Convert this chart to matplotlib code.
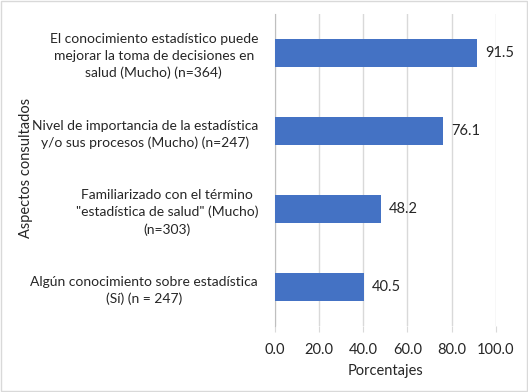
import matplotlib.pyplot as plt

plt.rcParams['font.family'] = ['Lato', 'DejaVu Sans']

categorias = [
    "El conocimiento estadístico puede\nmejorar la toma de decisiones en\nsalud (Mucho) (n=364)",
    "Nivel de importancia de la estadística\ny/o sus procesos (Mucho) (n=247)",
    "Familiarizado con el término\n\"estadística de salud\" (Mucho)\n(n=303)",
    "Algún conocimiento sobre estadística\n(Sí) (n = 247)",
]
porcentajes = [91.5, 76.1, 48.2, 40.5]
ticks_x = [0, 20, 40, 60, 80, 100]

texto = '#262626'
fig = plt.figure(figsize=(5.28, 3.92), dpi=100)
ax = fig.add_axes([274.7 / 528, (392 - 326) / 392, (496 - 274.7) / 528, 312 / 392])

pos = list(range(len(categorias)))[::-1]
ax.barh(pos, porcentajes, height=0.35, color='#4472C4', zorder=3)
for p, v in zip(pos, porcentajes):
    ax.text(v + 3.5, p, f"{v:.1f}", va='center', ha='left', fontsize=10.5, color=texto)

ax.set_xlim(0, 100)
ax.set_ylim(-0.5, len(categorias) - 0.5)
ax.set_xticks(ticks_x)
ax.set_xticklabels([f"{t:.1f}" for t in ticks_x], fontsize=10.5, color=texto)
ax.set_yticks(pos)
ax.set_yticklabels(categorias, fontsize=10, color=texto, multialignment='center',
                   linespacing=1.45)
ax.tick_params(axis='y', length=0, pad=12)
ax.tick_params(axis='x', length=4, color='#D9D9D9', pad=8)
ax.grid(axis='x', color='#D9D9D9', linewidth=1, zorder=0)
for s in ['top', 'right', 'bottom']:
    ax.spines[s].set_visible(False)
ax.spines['left'].set_color('#BFBFBF')

ax.set_xlabel("Porcentajes", fontsize=10.5, color=texto, labelpad=5)
fig.text(26 / 528, 0.5 + 28 / 392, "Aspectos consultados", rotation=90, fontsize=10.5,
         color=texto, ha='center', va='center')

fig.patches.append(plt.Rectangle((0.002, 0.002), 0.996, 0.995, transform=fig.transFigure,
                                 fill=False, edgecolor='#D9D9D9', linewidth=1))
fig.savefig('out.png', dpi=100)
